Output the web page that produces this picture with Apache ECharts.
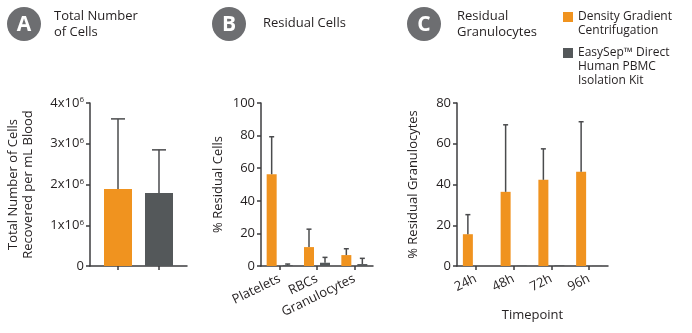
<!DOCTYPE html>
<html>
<head>
<meta charset="utf-8">
<script src="https://cdn.jsdelivr.net/npm/echarts@6/dist/echarts.min.js"></script>
<style>
  html, body { margin: 0; padding: 0; background: #fff; }
  #chart { width: 692px; height: 333px; }
</style>
</head>
<body>
<div id="chart"></div>
<script>
// Panel A: total cells recovered per mL blood (mean and SD)
const totalMethods = ['Density Gradient Centrifugation', 'EasySep™ Direct Human PBMC Isolation Kit'];
const totalMean = [1.89e6, 1.79e6];
const totalSd = [1.72e6, 1.06e6];

// Panel B: residual cells (%)
const residualCats = ['Platelets', 'RBCs', 'Granulocytes'];
const residualDgc = [56.3, 11.6, 6.7];
const residualDgcSd = [23.0, 11.0, 3.9];
const residualEasy = [0.6, 2.0, 1.2];
const residualEasySd = [0.6, 3.3, 3.5];

// Panel C: residual granulocytes over time (%)
const timepoints = ['24h', '48h', '72h', '96h'];
const granDgc = [15.6, 36.4, 42.3, 46.2];
const granDgcSd = [9.6, 32.9, 15.2, 24.6];
const granEasy = [0, 0.2, 0.4, 0.1];
const granEasySd = [0, 0, 0, 0];

const yTicksA = [0, 1e6, 2e6, 3e6, 4e6];

const ORANGE = '#f0931f';
const GREY = '#54585a';
const TEXT = '#231f20';
const AXIS = '#3d3d3f';
const ERR = '#4a4b4d';
const FONT = 'Open Sans';

const chart = echarts.init(document.getElementById('chart'), null, { renderer: 'canvas' });

// error bar (upper whisker with cap) drawn through the axis scales
function errorSeries(xAxisIndex, yAxisIndex, means, sds, offset, capW, color) {
  return {
    type: 'custom',
    xAxisIndex, yAxisIndex,
    z: 5,
    silent: true,
    data: means.map((m, i) => [i, m, sds[i]]),
    renderItem(params, api) {
      const x = api.value(0), m = api.value(1), e = api.value(2);
      if (!e) return null;
      const base = api.coord([x, m]);
      const top = api.coord([x, m + e]);
      const cx = base[0] + offset;
      const st = { stroke: color, lineWidth: 1.5 };
      return {
        type: 'group',
        children: [
          { type: 'line', shape: { x1: cx, y1: base[1], x2: cx, y2: top[1] }, style: st },
          { type: 'line', shape: { x1: cx - capW / 2, y1: top[1], x2: cx + capW / 2, y2: top[1] }, style: st }
        ]
      };
    }
  };
}

const BW = 10, GAP = 6;          // bar width and gap in panels B and C
const half = (BW + GAP) / 2;

const axisLineStyle = { lineStyle: { color: AXIS, width: 1.5 } };
const tickStyle = { show: true, length: 4, lineStyle: { color: AXIS, width: 1.5 } };
const labelStyle = { color: TEXT, fontSize: 13, fontFamily: FONT };

function circleBadge(cx, cy, letter) {
  return {
    type: 'group',
    children: [
      { type: 'circle', shape: { cx, cy, r: 17 }, style: { fill: '#6d6e71' } },
      { type: 'text', x: cx, y: cy + 1, style: { text: letter, fill: '#fff', font: 'bold 21px ' + FONT, align: 'center', verticalAlign: 'middle' } }
    ]
  };
}
function title(x, y, txt) {
  return { type: 'text', x, y, style: { text: txt, fill: TEXT, font: '13px ' + FONT, lineHeight: 16, verticalAlign: 'top' } };
}

// legend text is centred on its swatch; leading blank lines put the swatch beside the first line
const legendText = { color: TEXT, fontSize: 12, fontFamily: FONT, lineHeight: 14 };

const option = {
  animation: false,
  textStyle: { fontFamily: FONT },
  grid: [
    { left: 90, top: 103, width: 97, height: 163 },
    { left: 261, top: 103, width: 112, height: 163 },
    { left: 457, top: 103, width: 151, height: 163 }
  ],
  legend: [
    {
      left: 563, top: -4, padding: 0, itemWidth: 10, itemHeight: 10, itemGap: 8,
      data: [{ name: totalMethods[0], icon: 'rect' }],
      formatter: () => '\nDensity Gradient\nCentrifugation',
      textStyle: legendText
    },
    {
      left: 563, top: 18, padding: 0, itemWidth: 10, itemHeight: 10, itemGap: 8,
      data: [{ name: totalMethods[1], icon: 'rect' }],
      formatter: () => '\n\nEasySep™ Direct\nHuman PBMC\nIsolation Kit',
      textStyle: legendText
    }
  ],
  xAxis: [
    {
      gridIndex: 0, type: 'value', min: -0.683, max: 1.683,
      axisLine: { show: true, ...axisLineStyle },
      axisTick: { ...tickStyle, customValues: [0, 1] },
      axisLabel: { show: false, customValues: [0, 1] },
      splitLine: { show: false }
    },
    {
      gridIndex: 1, type: 'category', data: residualCats,
      axisLine: axisLineStyle,
      axisTick: { ...tickStyle, alignWithLabel: true },
      axisLabel: { ...labelStyle, rotate: 26, margin: 12, interval: 0 }
    },
    {
      gridIndex: 2, type: 'category', data: timepoints,
      name: 'Timepoint', nameLocation: 'middle', nameGap: 43,
      nameTextStyle: { color: TEXT, fontSize: 13, fontFamily: FONT },
      axisLine: axisLineStyle,
      axisTick: { ...tickStyle, alignWithLabel: true },
      axisLabel: { ...labelStyle, rotate: 26, margin: 12, interval: 0 }
    }
  ],
  yAxis: [
    {
      gridIndex: 0, type: 'value', min: yTicksA[0], max: yTicksA[yTicksA.length - 1], interval: 1e6,
      name: 'Total Number of Cells\nRecovered per mL Blood', nameLocation: 'middle', nameGap: 54,
      nameTextStyle: { color: TEXT, fontSize: 13, fontFamily: FONT, lineHeight: 15 },
      axisLine: { show: true, onZero: false, ...axisLineStyle }, axisTick: tickStyle, splitLine: { show: false },
      axisLabel: {
        ...labelStyle, margin: 6,
        formatter: v => v === 0 ? '{b|0}' : '{b|' + (v / 1e6) + 'x10}{s|6}',
        rich: {
          b: { fontSize: 13, fontFamily: FONT, color: TEXT },
          s: { fontSize: 8, fontFamily: FONT, color: TEXT, verticalAlign: 'top', padding: [0, 0, 6, 0] }
        }
      }
    },
    {
      gridIndex: 1, type: 'value', min: 0, max: 100, interval: 20,
      name: '% Residual Cells', nameLocation: 'middle', nameGap: 36,
      nameTextStyle: { color: TEXT, fontSize: 13, fontFamily: FONT },
      axisLine: { show: true, ...axisLineStyle }, axisTick: tickStyle, splitLine: { show: false },
      axisLabel: { ...labelStyle, margin: 6 }
    },
    {
      gridIndex: 2, type: 'value', min: 0, max: 80, interval: 20,
      name: '% Residual Granulocytes', nameLocation: 'middle', nameGap: 37,
      nameTextStyle: { color: TEXT, fontSize: 13, fontFamily: FONT },
      axisLine: { show: true, ...axisLineStyle }, axisTick: tickStyle, splitLine: { show: false },
      axisLabel: { ...labelStyle, margin: 6 }
    }
  ],
  series: [
    // A
    {
      type: 'bar', xAxisIndex: 0, yAxisIndex: 0, barWidth: 28,
      data: totalMean.map((v, i) => ({ value: [i, v], itemStyle: { color: i === 0 ? ORANGE : GREY } }))
    },
    {
      type: 'custom', xAxisIndex: 0, yAxisIndex: 0, z: 5, silent: true,
      data: totalMean.map((m, i) => [i, m, totalSd[i]]),
      renderItem(params, api) {
        const base = api.coord([api.value(0), api.value(1)]);
        const top = api.coord([api.value(0), api.value(1) + api.value(2)]);
        const st = { stroke: ERR, lineWidth: 1.5 };
        return { type: 'group', children: [
          { type: 'line', shape: { x1: base[0], y1: base[1], x2: base[0], y2: top[1] }, style: st },
          { type: 'line', shape: { x1: base[0] - 7, y1: top[1], x2: base[0] + 7, y2: top[1] }, style: st }
        ] };
      }
    },
    // B
    { name: totalMethods[0], type: 'bar', xAxisIndex: 1, yAxisIndex: 1, barWidth: BW, barGap: '60%', data: residualDgc, itemStyle: { color: ORANGE } },
    { name: totalMethods[1], type: 'bar', xAxisIndex: 1, yAxisIndex: 1, barWidth: BW, barGap: '60%', data: residualEasy, itemStyle: { color: GREY } },
    errorSeries(1, 1, residualDgc, residualDgcSd, -half, 5, ERR),
    errorSeries(1, 1, residualEasy, residualEasySd, half, 5, ERR),
    // C
    { name: totalMethods[0], type: 'bar', xAxisIndex: 2, yAxisIndex: 2, barWidth: BW, barGap: '60%', data: granDgc, itemStyle: { color: ORANGE } },
    { name: totalMethods[1], type: 'bar', xAxisIndex: 2, yAxisIndex: 2, barWidth: BW, barGap: '60%', data: granEasy, itemStyle: { color: GREY } },
    errorSeries(2, 2, granDgc, granDgcSd, -half, 5, ERR),
    errorSeries(2, 2, granEasy, granEasySd, half, 5, ERR)
  ],
  graphic: [
    circleBadge(24, 24, 'A'),
    circleBadge(229, 24, 'B'),
    circleBadge(424, 24, 'C'),
    title(54, 8, 'Total Number\nof Cells'),
    title(263, 15, 'Residual Cells'),
    title(457, 8, 'Residual\nGranulocytes')
  ]
};

chart.setOption(option);
</script>
</body>
</html>
